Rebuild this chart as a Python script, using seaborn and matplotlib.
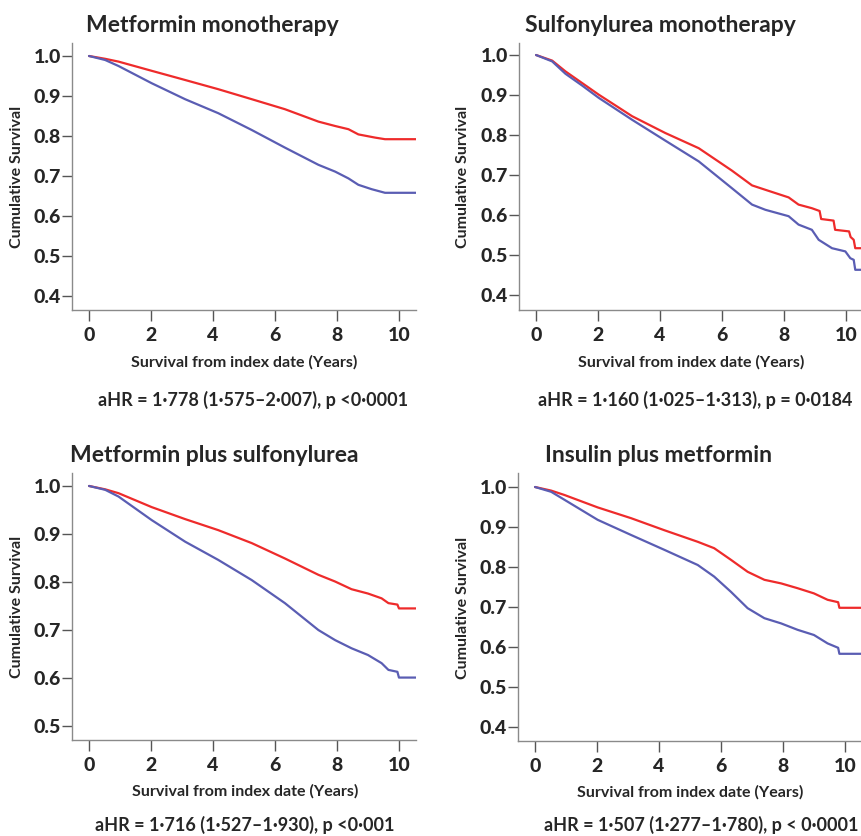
import numpy as np
import pandas as pd
import seaborn as sns
import matplotlib
matplotlib.use("Agg")
import matplotlib.pyplot as plt

sns.set_theme(style="white")
plt.rcParams['font.family'] = ['Lato', 'DejaVu Sans']

titles = ["Metformin monotherapy", "Sulfonylurea monotherapy",
          "Metformin plus sulfonylurea", "Insulin plus metformin"]
ahr_texts = ["aHR = 1·778 (1·575–2·007), p <0·0001",
             "aHR = 1·160 (1·025–1·313), p = 0·0184",
             "aHR = 1·716 (1·527–1·930), p <0·001",
             "aHR = 1·507 (1·277–1·780), p < 0·0001"]
y_label = "Cumulative Survival"
x_label = "Survival from index date (Years)"
x_ticks = [0, 2, 4, 6, 8, 10]

# Panel 1: Metformin monotherapy
p1_red_t = [0, 0.52, 0.95, 2.02, 3.1, 4.17, 5.25, 6.32, 7.4, 7.94, 8.37, 8.69, 9.23, 9.55, 10.55]
p1_red_s = [1.0, 0.993, 0.986, 0.963, 0.940, 0.917, 0.892, 0.867, 0.836, 0.825, 0.817, 0.804, 0.796, 0.792, 0.792]
p1_blue_t = [0, 0.52, 0.95, 2.02, 3.1, 4.17, 5.25, 6.32, 7.4, 7.94, 8.37, 8.69, 9.12, 9.55, 10.55]
p1_blue_s = [1.0, 0.990, 0.975, 0.932, 0.892, 0.857, 0.815, 0.771, 0.728, 0.711, 0.694, 0.678, 0.667, 0.658, 0.658]

# Panel 2: Sulfonylurea monotherapy
p2_red_t = [0, 0.52, 0.95, 2.02, 3.1, 4.17, 5.25, 6.32, 6.97, 7.4, 8.15, 8.47, 8.9, 9.15, 9.2, 9.6, 9.65, 10.1, 10.15, 10.25, 10.3, 10.55]
p2_red_s = [1.0, 0.986, 0.959, 0.901, 0.847, 0.805, 0.767, 0.711, 0.674, 0.663, 0.644, 0.626, 0.617, 0.610, 0.590, 0.586, 0.563, 0.559, 0.545, 0.538, 0.517, 0.517]
p2_blue_t = [0, 0.52, 0.95, 1.48, 2.02, 3.1, 4.17, 5.25, 6.32, 6.97, 7.4, 8.15, 8.47, 8.9, 9.12, 9.55, 9.98, 10.14, 10.25, 10.3, 10.55]
p2_blue_s = [1.0, 0.984, 0.953, 0.924, 0.893, 0.838, 0.786, 0.734, 0.667, 0.626, 0.613, 0.597, 0.576, 0.563, 0.538, 0.517, 0.509, 0.492, 0.488, 0.463, 0.463]

# Panel 3: Metformin plus sulfonylurea
p3_red_t = [0, 0.52, 0.95, 2.02, 3.1, 4.17, 5.25, 6.32, 7.4, 7.94, 8.47, 9.0, 9.44, 9.66, 9.95, 10.0, 10.55]
p3_red_s = [1.0, 0.993, 0.985, 0.956, 0.931, 0.908, 0.881, 0.849, 0.815, 0.801, 0.785, 0.776, 0.766, 0.756, 0.753, 0.745, 0.745]
p3_blue_t = [0, 0.52, 0.95, 2.02, 3.1, 4.17, 5.25, 6.32, 6.86, 7.4, 7.94, 8.47, 9.0, 9.44, 9.66, 9.95, 10.0, 10.55]
p3_blue_s = [1.0, 0.992, 0.978, 0.929, 0.884, 0.846, 0.804, 0.756, 0.728, 0.700, 0.679, 0.662, 0.648, 0.631, 0.617, 0.613, 0.601, 0.601]

# Panel 4: Insulin plus metformin
p4_red_t = [0, 0.52, 0.95, 2.02, 3.1, 4.17, 5.25, 5.78, 6.32, 6.86, 7.4, 7.94, 8.47, 9.0, 9.44, 9.78, 9.82, 10.55]
p4_red_s = [1.0, 0.991, 0.980, 0.949, 0.922, 0.892, 0.863, 0.847, 0.818, 0.788, 0.768, 0.759, 0.747, 0.734, 0.718, 0.712, 0.698, 0.698]
p4_blue_t = [0, 0.52, 0.95, 2.02, 3.1, 4.17, 5.25, 5.78, 6.32, 6.86, 7.4, 7.94, 8.47, 9.0, 9.44, 9.78, 9.82, 10.55]
p4_blue_s = [1.0, 0.988, 0.968, 0.918, 0.880, 0.843, 0.805, 0.776, 0.738, 0.697, 0.672, 0.659, 0.643, 0.630, 0.609, 0.598, 0.583, 0.583]

red_series = [(p1_red_t, p1_red_s), (p2_red_t, p2_red_s), (p3_red_t, p3_red_s), (p4_red_t, p4_red_s)]
blue_series = [(p1_blue_t, p1_blue_s), (p2_blue_t, p2_blue_s), (p3_blue_t, p3_blue_s), (p4_blue_t, p4_blue_s)]
y_ticks = [[0.4, 0.5, 0.6, 0.7, 0.8, 0.9, 1.0],
           [0.4, 0.5, 0.6, 0.7, 0.8, 0.9, 1.0],
           [0.5, 0.6, 0.7, 0.8, 0.9, 1.0],
           [0.4, 0.5, 0.6, 0.7, 0.8, 0.9, 1.0]]

W, H = 861, 836
fig = plt.figure(figsize=(W / 100, H / 100), dpi=100)
fig.patch.set_facecolor("white")

def fx(px):
    return px / W

def fy(py):
    return 1 - py / H

# axes boxes in pixels: left, top, right, bottom
boxes = [(72, 43, 416, 310), (519, 43, 863, 310), (72, 473, 416, 740), (518, 473, 862, 741)]
ylims = [(0.365, 1.0325), (0.3625, 1.03), (0.471, 1.027), (0.365, 1.035)]

palette = {"Red": "#ee2b2b", "Blue": "#5a5db3"}

title_pos = [(86, 25), (525, 25), (70, 455), (545, 456)]
ylab_pos = [(17, 177), (463, 177), (17, 607), (463, 608)]
xlab_pos = [(244, 362), (691, 362), (245, 791), (690, 792)]
ahr_pos = [(253, 400), (695, 400), (245, 825), (701, 825)]

for i in range(4):
    l, t, r, b = boxes[i]
    ax = fig.add_axes([fx(l), fy(b), (r - l) / W, (b - t) / H])
    rows = []
    for tt, ss in zip(*red_series[i]):
        rows.append(("Red", tt, ss))
    for tt, ss in zip(*blue_series[i]):
        rows.append(("Blue", tt, ss))
    df = pd.DataFrame(rows, columns=["group", "time", "surv"])
    sns.lineplot(data=df, x="time", y="surv", hue="group", palette=palette,
                 estimator=None, sort=False, legend=False, linewidth=1.6, ax=ax)
    ax.set_xlim(-0.55, 10.55)
    ax.set_ylim(*ylims[i])
    ax.set_xticks(x_ticks)
    ax.set_xticklabels([str(v) for v in x_ticks], fontsize=14, fontweight=900)
    ax.set_yticks(y_ticks[i])
    ax.set_yticklabels([f"{v:.1f}" for v in y_ticks[i]], fontsize=14, fontweight=900)
    ax.set_xlabel("")
    ax.set_ylabel("")
    for s in ["top", "right"]:
        ax.spines[s].set_visible(False)
    for s in ["left", "bottom"]:
        ax.spines[s].set_color("#8a8a8a")
        ax.spines[s].set_linewidth(1.0)
    ax.tick_params(axis="y", direction="out", length=7, width=1, color="#555555", pad=1, left=True)
    ax.tick_params(axis="x", direction="out", length=8, width=1, color="#555555", pad=4, bottom=True)
    ax.set_facecolor("white")
    ax.grid(False)

    fig.text(fx(title_pos[i][0]), fy(title_pos[i][1]), titles[i], fontsize=16.5,
             fontweight="bold", ha="left", va="center")
    fig.text(fx(ylab_pos[i][0]), fy(ylab_pos[i][1]), y_label, fontsize=11.5,
             fontweight="bold", rotation=90, ha="center", va="center")
    fig.text(fx(xlab_pos[i][0]), fy(xlab_pos[i][1]), x_label, fontsize=11.5,
             fontweight="bold", ha="center", va="center")
    fig.text(fx(ahr_pos[i][0]), fy(ahr_pos[i][1]), ahr_texts[i], fontsize=13,
             fontweight="bold", ha="center", va="center")

fig.savefig("out.png", dpi=100, facecolor="white")
